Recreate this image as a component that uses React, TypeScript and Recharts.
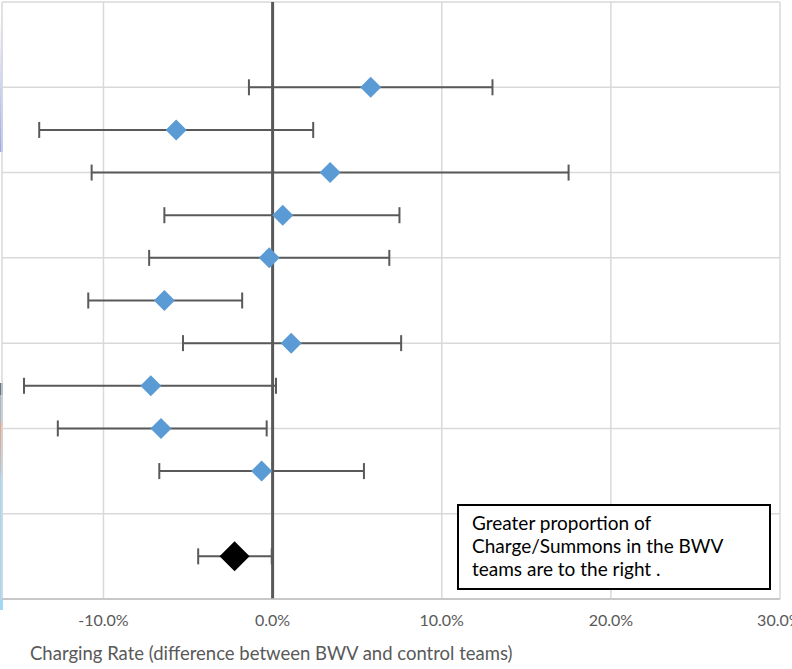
import React from "react";
import {
  ScatterChart,
  Scatter,
  XAxis,
  YAxis,
  CartesianGrid,
  ReferenceLine,
  ErrorBar,
} from "recharts";

// one row per team comparison, top to bottom (row position on a 0..7 scale)
const rowPositions = [6, 5.5, 5, 4.5, 4, 3.5, 3, 2.5, 2, 1.5];
const estimates = [5.8, -5.7, 3.4, 0.6, -0.2, -6.4, 1.1, -7.2, -6.6, -0.65];
const lowerCI = [-1.4, -13.8, -10.7, -6.4, -7.3, -10.9, -5.3, -14.7, -12.7, -6.7];
const upperCI = [13.0, 2.4, 17.5, 7.5, 6.9, -1.8, 7.6, 0.2, -0.35, 5.4];

// pooled estimate (black diamond)
const pooledRow = [0.5];
const pooledEstimate = [-2.25];
const pooledLower = [-4.4];
const pooledUpper = [-0.05];

const xTicks = [-10, 0, 10, 20, 30];
const yTicks = [0, 1, 2, 3, 4, 5, 6, 7];

const toRows = (rows, est, lo, hi) =>
  rows.map((r, i) => ({
    row: r,
    value: est[i],
    err: [est[i] - lo[i], hi[i] - est[i]],
  }));

const teamData = toRows(rowPositions, estimates, lowerCI, upperCI);
const pooledData = toRows(pooledRow, pooledEstimate, pooledLower, pooledUpper);

const diamond = (r: number, fill: string) => (props: any) => {
  const { cx, cy } = props;
  return (
    <polygon
      points={`${cx},${cy - r} ${cx + r},${cy} ${cx},${cy + r} ${cx - r},${cy}`}
      fill={fill}
    />
  );
};

const font = "Lato, 'Open Sans', sans-serif";

const App = () => {
  return (
    <div
      style={{
        position: "absolute",
        left: 0,
        top: 0,
        width: 792,
        height: 669,
        overflow: "hidden",
        background: "#fff",
        fontFamily: font,
      }}
    >
      {/* thin coloured strips left over on the left edge */}
      <div style={{ position: "absolute", left: 0, top: 18, width: 3, height: 134, background: "linear-gradient(#ffffff, #9aa6f4)" }} />
      <div style={{ position: "absolute", left: 0, top: 383, width: 3, height: 12, background: "#5f7786" }} />
      <div style={{ position: "absolute", left: 0, top: 395, width: 3, height: 215, background: "linear-gradient(#a9b8c4 0%, #a9b8c4 12%, #e3a58e 14%, #b9c2cc 34%, #a2d8f7 40%, #a2d8f7 100%)" }} />

      <ScatterChart
        width={800}
        height={669}
        margin={{ top: 2, right: 20, bottom: 0, left: 2 }}
        style={{ fontFamily: font }}
      >
        <CartesianGrid stroke="#d9d9d9" strokeWidth={1.5} />
        <XAxis
          type="number"
          dataKey="value"
          domain={[-16, 30]}
          ticks={xTicks}
          allowDataOverflow
          tickFormatter={(v) => `${v.toFixed(1)}%`}
          tick={{ fontSize: 16, fill: "#595959" }}
          tickLine={false}
          tickSize={0}
          tickMargin={16}
          axisLine={{ stroke: "#bfbfbf", strokeWidth: 1.5 }}
          height={70}
        />
        <YAxis type="number" dataKey="row" domain={[0, 7]} ticks={yTicks} hide />
        <ReferenceLine x={0} stroke="#595959" strokeWidth={3} />
        <Scatter
          data={teamData}
          fill="#5b9bd5"
          shape={diamond(10.5, "#5b9bd5")}
          isAnimationActive={false}
        >
          <ErrorBar dataKey="err" direction="x" width={8} stroke="#595959" strokeWidth={2} />
        </Scatter>
        <Scatter
          data={pooledData}
          fill="#000"
          shape={diamond(15, "#000")}
          isAnimationActive={false}
        >
          <ErrorBar dataKey="err" direction="x" width={8} stroke="#595959" strokeWidth={2} />
        </Scatter>
      </ScatterChart>

      <div
        style={{
          position: "absolute",
          left: 30,
          top: 641,
          fontSize: 18.5,
          lineHeight: "24px",
          color: "#595959",
          whiteSpace: "nowrap",
        }}
      >
        Charging Rate (difference between BWV and control teams)
      </div>

      <div
        style={{
          position: "absolute",
          left: 457,
          top: 504,
          width: 310,
          height: 82,
          border: "2px solid #000",
          background: "#fff",
          boxSizing: "content-box",
          padding: 0,
        }}
      >
        <div
          style={{
            position: "absolute",
            left: 13,
            top: 5,
            fontSize: 19,
            lineHeight: "23px",
            color: "#000",
            whiteSpace: "nowrap",
          }}
        >
          Greater proportion of
          <br />
          Charge/Summons in the BWV
          <br />
          teams are to the right .
        </div>
      </div>
    </div>
  );
};

export default App;
